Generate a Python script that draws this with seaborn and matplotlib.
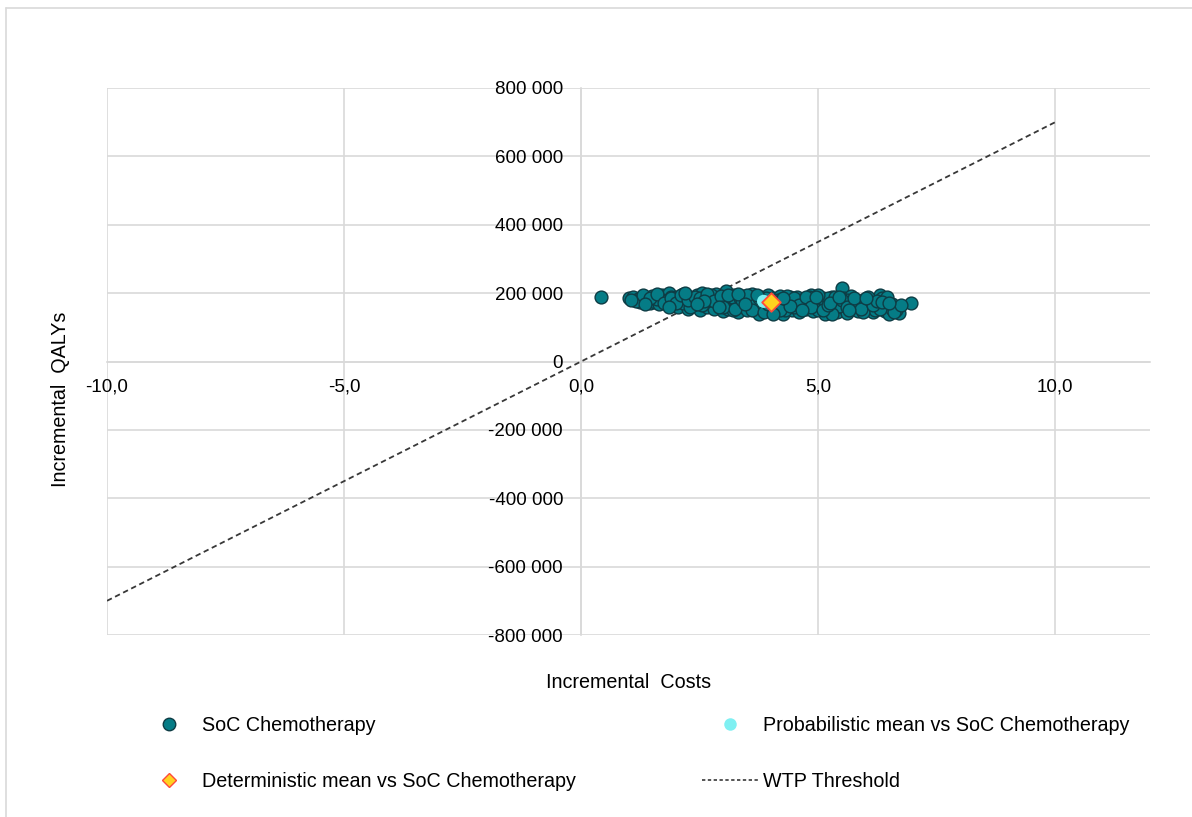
import matplotlib
matplotlib.use("Agg")
import matplotlib.pyplot as plt
from matplotlib.lines import Line2D
import pandas as pd
import seaborn as sns

# PSA iterations (incremental costs, incremental QALYs)
soc_cost = [0.42,
            1.0, 1.1, 1.2, 1.3, 1.35, 1.4, 1.45, 1.5, 1.5,
            1.55, 1.6, 1.65, 1.7, 1.75, 1.8, 1.85, 1.9, 1.95, 2.0,
            2.05, 2.1, 2.15, 2.2, 2.25, 2.3, 2.35, 2.4, 2.45, 2.5, 2.5,
            2.55, 2.6, 2.65, 2.7, 2.75, 2.8, 2.85, 2.9, 2.95, 3.0, 3.0,
            3.05, 3.1, 3.15, 3.2, 3.25, 3.3, 3.35, 3.4, 3.45, 3.5,
            3.55, 3.6, 3.65, 3.7, 3.75, 3.8, 3.85, 3.9, 3.95, 4.0,
            4.05, 4.1, 4.15, 4.2, 4.25, 4.3, 4.35, 4.4, 4.45, 4.5,
            4.55, 4.6, 4.65, 4.7, 4.75, 4.8, 4.85, 4.9, 4.95, 5.0,
            5.05, 5.1, 5.15, 5.2, 5.25, 5.3, 5.35, 5.4, 5.45, 5.5, 5.5,
            5.55, 5.6, 5.65, 5.7, 5.75, 5.8, 5.85, 5.9, 5.95, 6.0,
            6.05, 6.1, 6.15, 6.2, 6.25, 6.3, 6.35, 6.4, 6.45, 6.5, 6.55, 6.6, 6.7, 6.95,
            1.25, 1.7, 1.9, 2.05, 2.2, 2.35, 2.45, 2.6, 2.7, 2.8, 2.9, 3.05, 3.15, 3.25,
            3.35, 3.45, 3.55, 3.65, 3.7, 3.8, 3.9, 4.05, 4.15, 4.25, 4.35, 4.45, 4.6,
            4.7, 4.8, 4.9, 5.05, 5.15, 5.25, 5.35, 5.45, 5.6, 5.7, 5.85, 6.0, 6.1, 6.2,
            6.4, 6.55, 2.15, 2.55, 3.1, 3.5, 4.0, 4.5, 5.0, 5.3, 5.95, 6.65, 1.6, 1.8,
            2.3, 2.75, 3.2, 3.6, 4.3, 4.75, 5.2, 5.8, 6.3,
            1.15, 1.3, 1.45, 1.6, 1.75, 1.9, 2.0, 2.1, 2.25, 2.4,
            2.5, 2.65, 2.8, 2.95, 3.0, 3.1, 3.25, 3.4, 3.5, 3.6,
            3.75, 3.85, 3.95, 4.1, 4.2, 4.35, 4.5, 4.6, 4.75, 4.85,
            5.0, 5.1, 5.2, 5.35, 5.5, 5.6, 5.75, 5.9, 6.05, 6.15,
            6.25, 6.45, 6.6, 1.35, 1.85, 2.2, 2.6, 2.9, 3.3, 3.7,
            4.05, 4.4, 4.65, 4.95, 5.25, 5.65, 6.0, 6.35, 6.75, 1.05,
            2.45, 3.45, 4.25, 5.45, 6.5]
soc_qaly = [190000,
            185000, 188000, 182000, 190000, 178000, 186000, 172000, 192000, 180000,
            175000, 188000, 168000, 195000, 182000, 170000, 200000, 178000, 165000, 190000,
            160000, 185000, 198000, 172000, 155000, 190000, 180000, 165000, 195000, 175000, 150000,
            200000, 185000, 160000, 192000, 170000, 155000, 198000, 180000, 165000, 190000, 148000,
            205000, 175000, 160000, 195000, 182000, 145000, 170000, 192000, 158000, 185000,
            165000, 198000, 150000, 180000, 140000, 190000, 160000, 172000, 195000, 155000,
            185000, 145000, 168000, 192000, 140000, 178000, 160000, 188000, 150000, 172000,
            190000, 145000, 165000, 182000, 155000, 175000, 195000, 148000, 168000, 180000,
            160000, 185000, 140000, 172000, 152000, 188000, 165000, 145000, 178000, 215000, 158000,
            185000, 142000, 170000, 192000, 155000, 175000, 148000, 165000, 180000, 150000,
            170000, 158000, 145000, 175000, 160000, 195000, 185000, 148000, 165000, 140000, 155000, 160000, 142000, 170000,
            175000, 180000, 190000, 178000, 188000, 165000, 182000, 172000, 180000, 188000, 170000, 180000, 190000, 168000,
            185000, 175000, 180000, 188000, 165000, 175000, 185000, 170000, 180000, 165000, 185000, 175000, 170000,
            160000, 188000, 175000, 175000, 165000, 182000, 175000, 162000, 180000, 160000, 172000, 168000, 180000, 150000,
            172000, 168000, 170000, 165000, 155000, 150000, 165000, 158000, 150000, 140000, 145000, 150000, 182000, 176000,
            160000, 195000, 150000, 170000, 150000, 172000, 185000, 162000, 155000,
            178000, 195000, 185000, 198000, 170000, 185000, 172000, 195000, 180000, 190000,
            185000, 198000, 178000, 192000, 160000, 195000, 155000, 180000, 195000, 150000,
            185000, 145000, 168000, 175000, 150000, 192000, 185000, 165000, 190000, 160000,
            195000, 150000, 165000, 190000, 180000, 160000, 185000, 155000, 190000, 165000,
            178000, 190000, 145000, 168000, 160000, 200000, 178000, 158000, 198000, 195000,
            140000, 162000, 150000, 190000, 170000, 150000, 185000, 175000, 165000, 180000,
            168000, 168000, 185000, 190000, 172000]

prob_mean = (3.85, 176000)
det_mean = (4.0, 175000)

wtp_x = [-10, 10]
wtp_y = [-700000, 700000]

x_ticks = [-10, -5, 0, 5, 10]
y_ticks = [-800000, -600000, -400000, -200000, 0, 200000, 400000, 600000, 800000]

sns.set_style("white")
plt.rcParams["font.family"] = ["Liberation Sans", "DejaVu Sans"]
plt.rcParams["text.color"] = "#000000"
plt.rcParams["axes.labelcolor"] = "#000000"
FS = 13.5
LFS = 14.2
grid_col = "#d9d9d9"

fig = plt.figure(figsize=(11.92, 8.17), dpi=100)
ax = fig.add_axes([107 / 1192, 1 - 635 / 817, (1150 - 107) / 1192, (635 - 88) / 817])

df = pd.DataFrame({"cost": soc_cost, "qaly": soc_qaly})
sns.scatterplot(data=df, x="cost", y="qaly", ax=ax, color="#057c86", edgecolor="#0e3c44",
                linewidth=1.0, s=85, zorder=3, legend=False)
ax.scatter([prob_mean[0]], [prob_mean[1]], s=90, color="#7ff0f2", edgecolor="none", zorder=4)
ax.scatter([det_mean[0]], [det_mean[1]], s=90, marker="D", color="#ffd21f",
           edgecolor="#ff4a3a", linewidth=1.3, zorder=5)
ax.plot(wtp_x, wtp_y, color="#383838", linestyle=(0, (3, 2)), linewidth=1.3, zorder=2)

ax.set_xlim(-10, 12)
ax.set_ylim(-800000, 800000)
ax.set_xticks(x_ticks)
ax.set_yticks(y_ticks)
ax.set_xticklabels([f"{v:.1f}".replace(".", ",") for v in x_ticks])
ax.set_yticklabels([f"{v:,.0f}".replace(",", " ") for v in y_ticks])
ax.tick_params(axis="both", length=0, labelsize=FS, colors="#000000")
ax.tick_params(axis="y", pad=13)
ax.tick_params(axis="x", pad=12)
ax.grid(True, color=grid_col, linewidth=1.2)
ax.set_axisbelow(True)

for side in ["top", "right"]:
    ax.spines[side].set_visible(False)
ax.spines["left"].set_position("zero")
ax.spines["bottom"].set_position("zero")
for side in ["left", "bottom"]:
    ax.spines[side].set_color(grid_col)
    ax.spines[side].set_linewidth(1.2)
    ax.spines[side].set_zorder(0.3)

ax.set_xlabel("Incremental  Costs", fontsize=LFS)
ax.set_ylabel("Incremental  QALYs", fontsize=LFS)
ax.xaxis.set_label_coords(0.5, -0.070)
ax.yaxis.set_label_coords(-0.035, 0.43)

handles = [
    Line2D([], [], marker="o", linestyle="none", markersize=9, markerfacecolor="#057c86",
           markeredgecolor="#0e3c44"),
    Line2D([], [], marker="D", linestyle="none", markersize=7.5, markerfacecolor="#ffd21f",
           markeredgecolor="#ff4a3a"),
    Line2D([], [], marker="o", linestyle="none", markersize=9, markerfacecolor="#7ff0f2",
           markeredgecolor="none"),
    Line2D([], [], color="#383838", linestyle=(0, (2, 1.5)), linewidth=1.2),
]
labels = ["SoC Chemotherapy", "Deterministic mean vs SoC Chemotherapy",
          "Probabilistic mean vs SoC Chemotherapy", "WTP Threshold"]
fig.legend(handles, labels, loc="upper left", bbox_to_anchor=(0.103, 0.145), ncol=2,
           frameon=False, fontsize=LFS, handlelength=2.9, handletextpad=0.2,
           labelspacing=1.85, columnspacing=6.4, borderpad=0.4)

fig.add_artist(Line2D([6 / 1192, 6 / 1192], [0, 1 - 8 / 817], transform=fig.transFigure,
                      color=grid_col, linewidth=1.2))
fig.add_artist(Line2D([6 / 1192, 1], [1 - 8 / 817, 1 - 8 / 817], transform=fig.transFigure,
                      color=grid_col, linewidth=1.2))

fig.savefig("out.png", dpi=100)
